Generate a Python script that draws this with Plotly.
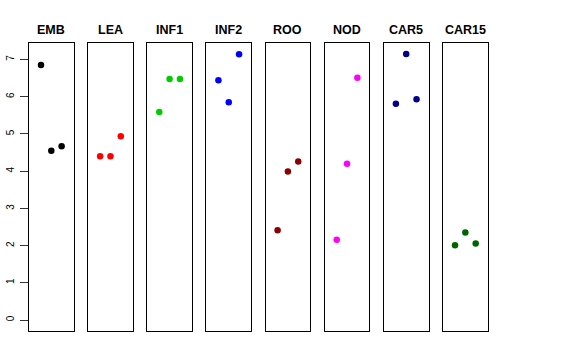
import plotly.graph_objects as go

categories = ["EMB", "LEA", "INF1", "INF2", "ROO", "NOD", "CAR5", "CAR15"]
emb = [6.85, 4.55, 4.67]
lea = [4.40, 4.40, 4.94]
inf1 = [5.59, 6.48, 6.48]
inf2 = [6.44, 5.85, 7.14]
roo = [2.41, 3.99, 4.26]
nod = [2.16, 4.20, 6.51]
car5 = [5.81, 7.15, 5.93]
car15 = [2.01, 2.35, 2.06]
replicates = [1, 2, 3]
colors = ["#000000", "#FF0000", "#00CD00", "#0000FF", "#8B0000", "#FF00FF", "#00008B", "#006400"]
yticks = [0, 1, 2, 3, 4, 5, 6, 7]

series = [emb, lea, inf1, inf2, roo, nod, car5, car15]

W, H = 576, 360
left0, step, pw = 29.0, 59.15, 44.6
top_px, bot_px = 43.3, 330.7

fig = go.Figure()
layout = dict(
    width=W, height=H,
    margin=dict(l=0, r=0, t=0, b=0, autoexpand=False),
    paper_bgcolor="white", plot_bgcolor="white",
    showlegend=False,
    font=dict(family="Liberation Sans, Arial, sans-serif", color="black"),
)
annotations = []
for i, (cat, vals, col) in enumerate(zip(categories, series, colors)):
    n = "" if i == 0 else str(i + 1)
    fig.add_trace(go.Scatter(
        x=replicates, y=vals, mode="markers",
        marker=dict(color=col, size=6.5, line=dict(width=0)),
        xaxis="x" + n, yaxis="y" + n, cliponaxis=False,
    ))
    x0 = (left0 + i * step) / W
    x1 = (left0 + i * step + pw) / W
    layout["xaxis" + n] = dict(
        domain=[x0, x1], range=[-0.16, 4.16],
        showline=True, mirror=True, linecolor="black", linewidth=1,
        showgrid=False, zeroline=False, showticklabels=False, ticks="",
        anchor="y" + n, fixedrange=True, automargin=False,
    )
    ydict = dict(
        domain=[(H - bot_px) / H, (H - top_px) / H], range=[-0.286, 7.436],
        showline=True, mirror=True, linecolor="black", linewidth=1,
        showgrid=False, zeroline=False, anchor="x" + n, fixedrange=True,
        automargin=False,
    )
    if i == 0:
        ydict.update(tickmode="array", tickvals=yticks, ticktext=[str(t) for t in yticks],
                     ticks="outside", ticklen=8, tickwidth=1, tickcolor="#333333",
                     tickangle=-90, tickfont=dict(size=10, color="black"),
                     ticklabelstandoff=2)
    else:
        ydict.update(showticklabels=False, ticks="")
    layout["yaxis" + n] = ydict
    annotations.append(dict(
        text="<b>" + cat + "</b>", x=(x0 + x1) / 2, y=(H - 29.5) / H,
        xref="paper", yref="paper", xanchor="center", yanchor="middle",
        showarrow=False, font=dict(size=12.5, color="black"),
    ))
layout["annotations"] = annotations
fig.update_layout(**layout)
# remove the browser's default 8px body margin so the figure sits at the page origin
fig.write_html("out.html",
               config={"displayModeBar": False, "staticPlot": True},
               post_script="document.body.style.margin='0';document.body.style.overflow='hidden';")
